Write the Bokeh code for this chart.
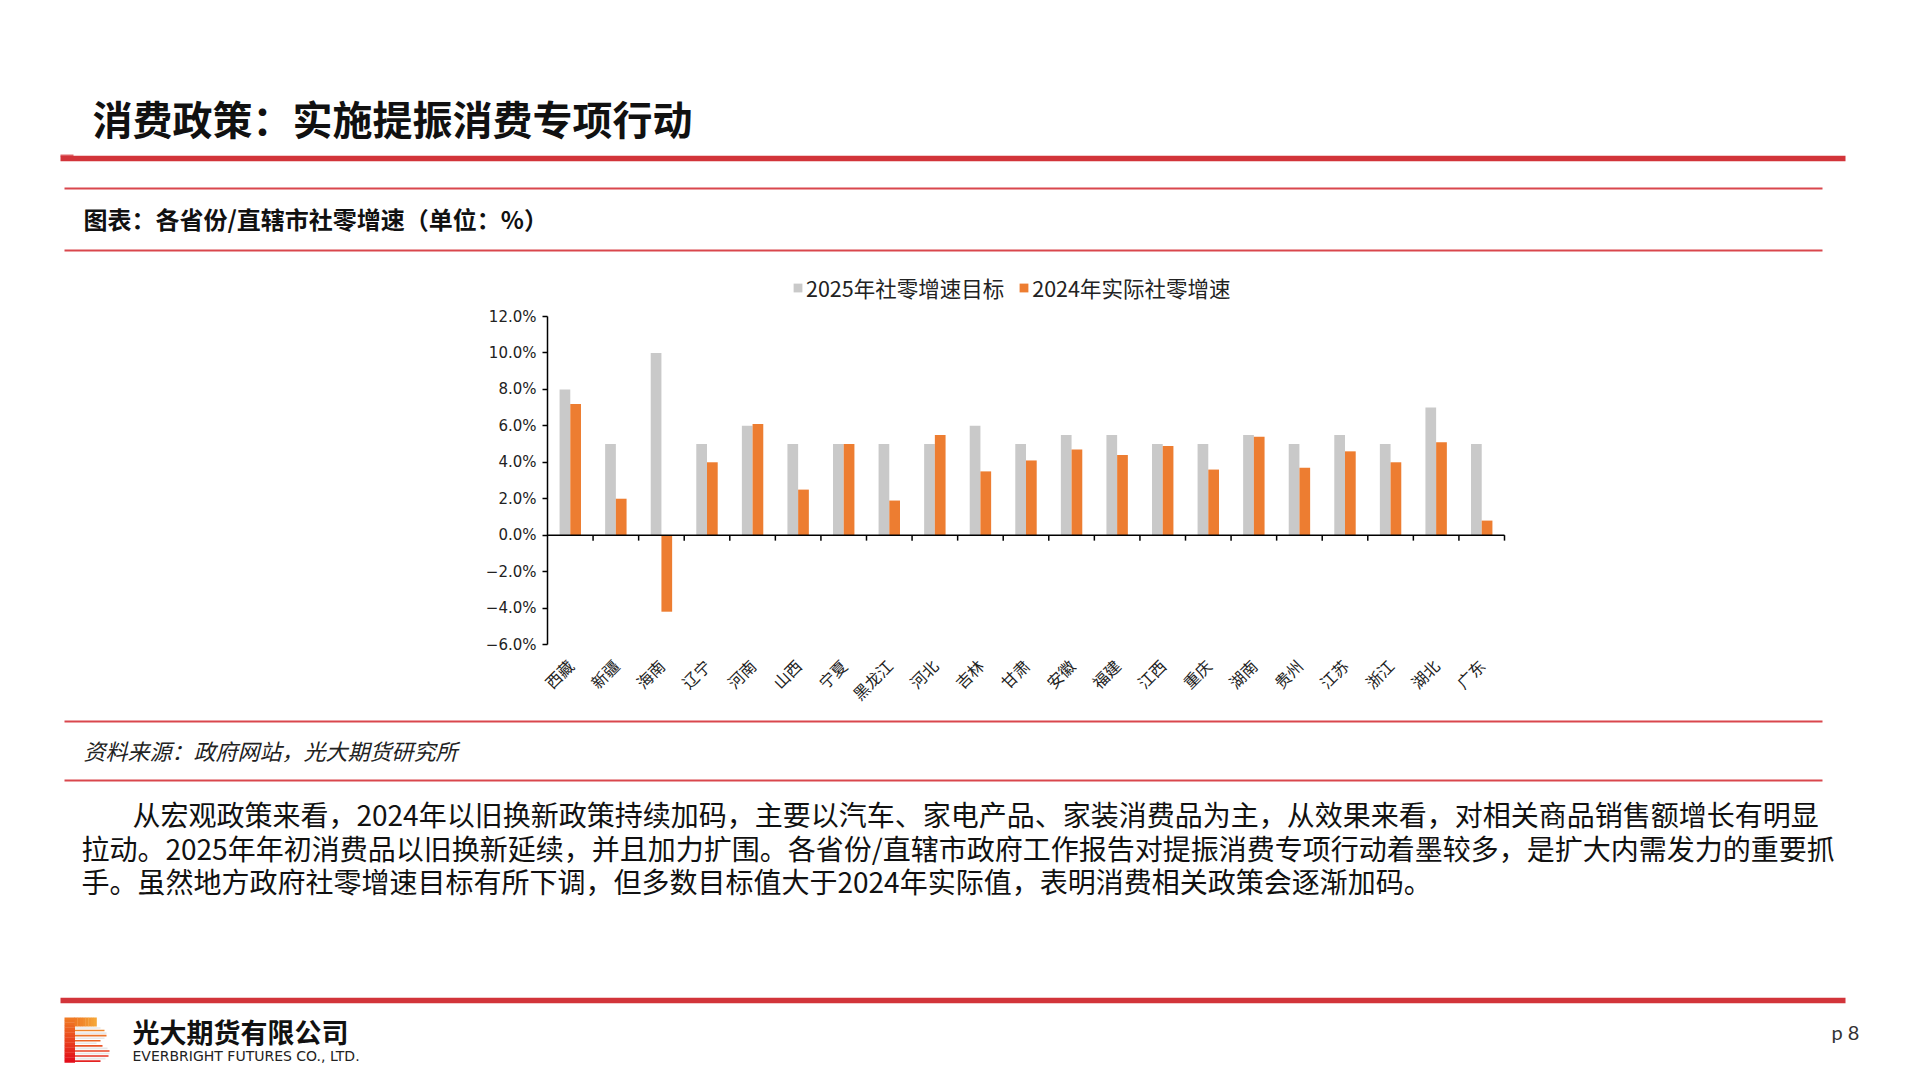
import math
from bokeh.plotting import figure
from bokeh.models import (Range1d, FixedTicker, Legend, LegendItem, ColumnDataSource, LinearAxis)
from bokeh.embed import file_html
from bokeh.resources import INLINE
from bokeh.core.properties import value
from bokeh.transform import dodge

# ---------------- data ----------------
provinces = ["西藏", "新疆", "海南", "辽宁", "河南", "山西", "宁夏", "黑龙江", "河北", "吉林", "甘肃",
             "安徽", "福建", "江西", "重庆", "湖南", "贵州", "江苏", "浙江", "湖北", "广东"]
target_2025 = [8.0, 5.0, 10.0, 5.0, 6.0, 5.0, 5.0, 5.0, 5.0, 6.0, 5.0,
               5.5, 5.5, 5.0, 5.0, 5.5, 5.0, 5.5, 5.0, 7.0, 5.0]
actual_2024 = [7.2, 2.0, -4.2, 4.0, 6.1, 2.5, 5.0, 1.9, 5.5, 3.5, 4.1,
               4.7, 4.4, 4.9, 3.6, 5.4, 3.7, 4.6, 4.0, 5.1, 0.8]
series_names = ["2025年社零增速目标", "2024年实际社零增速"]
y_ticks = [-6, -4, -2, 0, 2, 4, 6, 8, 10, 12]
y_tick_labels = ["−6.0%", "−4.0%", "−2.0%", "0.0%", "2.0%", "4.0%", "6.0%", "8.0%", "10.0%", "12.0%"]

page_title = "消费政策：实施提振消费专项行动"
chart_title = "图表：各省份/直辖市社零增速（单位：%）"
source_note = "资料来源：政府网站，光大期货研究所"
paragraph = [
    "从宏观政策来看，2024年以旧换新政策持续加码，主要以汽车、家电产品、家装消费品为主，从效果来看，对相关商品销售额增长有明显",
    "拉动。2025年年初消费品以旧换新延续，并且加力扩围。各省份/直辖市政府工作报告对提振消费专项行动着墨较多，是扩大内需发力的重要抓",
    "手。虽然地方政府社零增速目标有所下调，但多数目标值大于2024年实际值，表明消费相关政策会逐渐加码。",
]
company_cn = "光大期货有限公司"
company_en = "EVERBRIGHT FUTURES CO., LTD."
page_no = "p 8"

# ---------------- styles / layout ----------------
RED = "#D2343A"
THIN_RED = "#D9474D"
GRAY = "#C9C9C9"
ORANGE = "#ED7D31"
CJK = "Noto Sans CJK SC"

# page coordinates = pixels of the photographed window
X0, X1, Y0, Y1 = 0, 1904, 0, 1064
# chart plot area in page pixels
CH_L, CH_R, CH_T, CH_B = 547, 1504, 316, 644
n = len(provinces)
ymin, ymax = y_ticks[0], y_ticks[-1]
ppx = (CH_R - CH_L) / n
ppy = (CH_B - CH_T) / (ymax - ymin)

p = figure(width=X1 - X0, height=Y1 - Y0, x_range=Range1d(X0, X1), y_range=Range1d(Y1, Y0),
           output_backend="svg", toolbar_location=None, min_border=0,
           x_axis_location=None, y_axis_location=None)
p.grid.visible = False
p.outline_line_color = None
p.background_fill_color = "white"
p.border_fill_color = "white"
p.extra_x_ranges = {"cx": Range1d(0 - (CH_L - X0) / ppx, n + (X1 - CH_R) / ppx)}
p.extra_y_ranges = {"cy": Range1d(ymin - (Y1 - CH_B) / ppy, ymax + (CH_T - Y0) / ppy)}


def txt(x, y, s, size, color="#111111", style="normal", font=CJK, align="left"):
    p.text(x=[x], y=[y], text=[s], text_font=value(font), text_font_size=f"{size}px",
           text_font_style=style, text_color=color, text_baseline="middle", text_align=align)


def hline(x0, x1, y, w, color):
    p.quad(left=[x0], right=[x1], top=[y - w / 2], bottom=[y + w / 2], color=color, line_color=None)


# ---------------- header ----------------
txt(92, 117, page_title, 40, style="bold")
hline(60, 73, 155, 2, "#E06A6E")
hline(60, 1845, 158, 5.5, RED)
hline(64, 1822, 188, 2.2, THIN_RED)
txt(83, 218, chart_title, 24, style="bold")
hline(64, 1822, 250, 2.2, THIN_RED)

# ---------------- chart ----------------
src = ColumnDataSource(dict(x=[i + 0.5 for i in range(n)], t25=target_2025, a24=actual_2024))
bw = 0.235
r1 = p.vbar(x=dodge("x", -bw / 2), top="t25", bottom=0, width=bw, source=src,
            fill_color=GRAY, line_color=None, x_range_name="cx", y_range_name="cy")
r2 = p.vbar(x=dodge("x", bw / 2), top="a24", bottom=0, width=bw, source=src,
            fill_color=ORANGE, line_color=None, x_range_name="cx", y_range_name="cy")

# zero line with category-boundary ticks
p.segment(x0=[0], x1=[n], y0=[0], y1=[0], line_color="black", line_width=1.5,
          x_range_name="cx", y_range_name="cy")
p.segment(x0=list(range(1, n + 1)), x1=list(range(1, n + 1)), y0=0, y1=-0.3,
          line_color="black", line_width=1.5, x_range_name="cx", y_range_name="cy")

yaxis = LinearAxis(x_range_name="cx", y_range_name="cy", fixed_location=0, bounds=(ymin, ymax))
yaxis.ticker = FixedTicker(ticks=y_ticks)
yaxis.major_label_overrides = {t: l for t, l in zip(y_ticks, y_tick_labels)}
yaxis.minor_tick_line_color = None
yaxis.major_tick_in = 0
yaxis.major_tick_out = 5
yaxis.axis_line_width = 1.5
yaxis.major_tick_line_width = 1.5
yaxis.axis_line_color = "black"
yaxis.major_label_text_font = "DejaVu Sans"
yaxis.major_label_text_font_size = "15px"
yaxis.major_label_text_color = "#222222"
yaxis.major_label_standoff = 6
p.add_layout(yaxis, "left")

xaxis = LinearAxis(x_range_name="cx", y_range_name="cy", fixed_location=ymin, bounds=(0, n))
xaxis.ticker = FixedTicker(ticks=[i + 0.5 for i in range(n)])
xaxis.major_label_overrides = {i + 0.5: name for i, name in enumerate(provinces)}
xaxis.major_label_orientation = math.pi / 4
xaxis.axis_line_color = None
xaxis.major_tick_line_color = None
xaxis.minor_tick_line_color = None
xaxis.major_label_text_font = CJK
xaxis.major_label_text_font_size = "16px"
xaxis.major_label_text_color = "#222222"
xaxis.major_label_standoff = 12
p.add_layout(xaxis, "below")

legend = Legend(items=[LegendItem(label=series_names[0], renderers=[r1]),
                       LegendItem(label=series_names[1], renderers=[r2])],
                orientation="horizontal", location=(792 - X0, Y1 - 303))
legend.label_text_font = CJK
legend.label_text_font_size = "21.5px"
legend.label_text_color = "#222222"
legend.glyph_width = 11
legend.glyph_height = 11
legend.label_standoff = 3
legend.spacing = 14
legend.padding = 4
legend.margin = 0
legend.border_line_color = None
legend.background_fill_alpha = 0
p.add_layout(legend, "center")

# ---------------- footer ----------------
hline(64, 1822, 721, 2.2, THIN_RED)
txt(83, 749, source_note, 22, color="#222222", style="italic")
hline(64, 1822, 780, 2.2, THIN_RED)
for (x, y), line in zip([(132, 813), (81, 847), (81, 880)], paragraph):
    txt(x, y, line, 28, color="#111111")
hline(60, 1845, 1000, 5.5, RED)


# logo (decorative)
def mix(c1, c2, t):
    a = [int(c1[i:i + 2], 16) for i in (1, 3, 5)]
    b = [int(c2[i:i + 2], 16) for i in (1, 3, 5)]
    return "#%02x%02x%02x" % tuple(int(a[k] + (b[k] - a[k]) * t) for k in range(3))


steps = 18
for k in range(steps):
    yy = 1017 + k * 45 / steps
    p.quad(left=[64], right=[74.5], top=[yy], bottom=[yy + 45 / steps + 0.3],
           color=mix("#F07A24", "#E30E1A", k / (steps - 1)), line_color=None)
for k in range(8):
    xx = 74 + k * 22 / 8
    p.quad(left=[xx], right=[xx + 22 / 8 + 0.3], top=[1017], bottom=[1026],
           color=mix("#F07A24", "#F5A638", k / 7), line_color=None)
stripe_right = [100, 104, 106, 106, 104, 100, 96, 102, 107, 109, 109, 108, 105, 100]
for k, xr in enumerate(stripe_right):
    yy = 1027.5 + k * 2.55
    col = "#E8E8E8" if k % 2 == 0 else mix("#F0902E", "#E41B22", k / len(stripe_right))
    p.segment(x0=[74.5], x1=[xr], y0=[yy], y1=[yy], line_color=col, line_width=1.6)

txt(132, 1031, company_cn, 27, color="#111111", style="bold")
txt(132, 1055, company_en, 14, color="#222222", font="DejaVu Sans")
txt(1831, 1031, page_no, 20, color="#333333", font="Lato")

open("out.html", "w").write(file_html(p, INLINE))
